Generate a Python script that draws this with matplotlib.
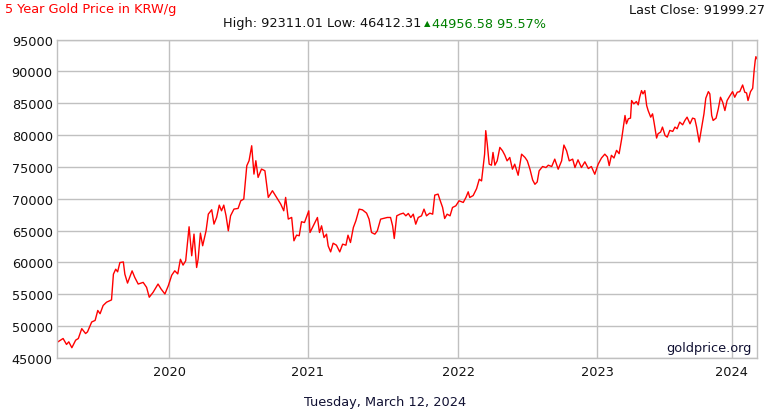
import numpy as np
import pandas as pd
import matplotlib
matplotlib.use("Agg")
import matplotlib.pyplot as plt
import matplotlib.dates as mdates

# Данные: цена золота в KRW за грамм
dates = [
    "2019-03-12", "2019-03-28", "2019-04-06", "2019-04-12", "2019-04-20", "2019-04-30",
    "2019-05-07", "2019-05-16", "2019-05-26", "2019-05-31", "2019-06-11", "2019-06-20",
    "2019-06-27", "2019-07-03", "2019-07-11", "2019-07-20", "2019-08-02", "2019-08-07",
    "2019-08-13", "2019-08-18", "2019-08-24", "2019-09-02", "2019-09-06", "2019-09-13",
    "2019-09-25", "2019-10-02", "2019-10-11", "2019-10-24", "2019-11-02", "2019-11-09",
    "2019-11-19", "2019-12-02", "2019-12-10", "2019-12-20", "2019-12-29",
    "2020-01-07", "2020-01-15", "2020-01-23", "2020-01-30", "2020-02-06", "2020-02-13",
    "2020-02-22", "2020-02-29", "2020-03-06", "2020-03-13", "2020-03-17", "2020-03-23",
    "2020-03-29", "2020-04-07", "2020-04-13", "2020-04-22", "2020-04-28", "2020-05-05",
    "2020-05-12", "2020-05-18", "2020-05-24", "2020-05-30", "2020-06-05", "2020-06-11",
    "2020-06-20", "2020-07-01", "2020-07-08", "2020-07-16", "2020-07-24", "2020-07-30",
    "2020-08-06", "2020-08-12", "2020-08-17", "2020-08-23", "2020-09-01", "2020-09-10",
    "2020-09-19", "2020-09-30", "2020-10-11", "2020-10-22", "2020-10-30", "2020-11-04",
    "2020-11-11", "2020-11-20", "2020-11-26", "2020-12-03", "2020-12-10", "2020-12-16",
    "2020-12-24",
    "2021-01-04", "2021-01-07", "2021-01-15", "2021-01-25", "2021-01-30", "2021-02-04",
    "2021-02-10", "2021-02-16", "2021-02-20", "2021-02-26", "2021-03-04", "2021-03-12",
    "2021-03-20", "2021-03-27", "2021-04-04", "2021-04-09", "2021-04-15", "2021-04-22",
    "2021-04-28", "2021-05-06", "2021-05-14", "2021-05-24", "2021-05-30", "2021-06-05",
    "2021-06-13", "2021-06-19", "2021-06-27", "2021-07-03", "2021-07-13", "2021-07-21",
    "2021-07-26", "2021-07-30", "2021-08-05", "2021-08-13", "2021-08-21", "2021-08-27",
    "2021-09-02", "2021-09-08", "2021-09-14", "2021-09-20", "2021-09-26", "2021-10-04",
    "2021-10-10", "2021-10-16", "2021-10-24", "2021-10-31", "2021-11-05", "2021-11-13",
    "2021-11-17", "2021-11-24", "2021-11-29", "2021-12-05", "2021-12-12", "2021-12-18",
    "2021-12-26",
    "2022-01-03", "2022-01-14", "2022-01-21", "2022-01-27", "2022-01-31", "2022-02-09",
    "2022-02-18", "2022-02-25", "2022-03-03", "2022-03-07", "2022-03-11", "2022-03-14",
    "2022-03-18", "2022-03-23", "2022-03-29", "2022-04-02", "2022-04-07", "2022-04-13",
    "2022-04-20", "2022-04-27", "2022-05-03", "2022-05-09", "2022-05-16", "2022-05-23",
    "2022-05-29", "2022-06-07", "2022-06-16", "2022-06-25", "2022-07-01", "2022-07-08",
    "2022-07-15", "2022-07-21", "2022-07-27", "2022-08-01", "2022-08-10", "2022-08-19",
    "2022-08-25", "2022-09-03", "2022-09-11", "2022-09-20", "2022-09-29", "2022-10-05",
    "2022-10-12", "2022-10-19", "2022-10-28", "2022-11-03", "2022-11-11", "2022-11-20",
    "2022-11-29", "2022-12-08", "2022-12-16", "2022-12-25",
    "2023-01-03", "2023-01-12", "2023-01-21", "2023-01-28", "2023-02-02", "2023-02-08",
    "2023-02-15", "2023-02-22", "2023-03-01", "2023-03-08", "2023-03-12", "2023-03-17",
    "2023-03-21", "2023-03-26", "2023-04-01", "2023-04-04", "2023-04-10", "2023-04-17",
    "2023-04-22", "2023-04-26", "2023-05-01", "2023-05-05", "2023-05-10", "2023-05-15",
    "2023-05-19", "2023-05-26", "2023-05-31", "2023-06-04", "2023-06-11", "2023-06-15",
    "2023-06-22", "2023-06-27", "2023-07-04", "2023-07-10", "2023-07-17", "2023-07-25",
    "2023-07-31", "2023-08-06", "2023-08-13", "2023-08-21", "2023-08-27", "2023-09-02",
    "2023-09-10", "2023-09-17", "2023-09-23", "2023-09-28", "2023-10-05", "2023-10-11",
    "2023-10-18", "2023-10-23", "2023-10-30", "2023-11-03", "2023-11-08", "2023-11-12",
    "2023-11-20", "2023-11-26", "2023-12-02", "2023-12-08", "2023-12-14", "2023-12-20",
    "2023-12-28",
    "2024-01-04", "2024-01-10", "2024-01-17", "2024-01-24", "2024-02-01", "2024-02-07",
    "2024-02-12", "2024-02-16", "2024-02-23", "2024-02-29", "2024-03-04", "2024-03-07",
    "2024-03-09", "2024-03-12",
]
prices = [
    47440, 48060, 47130, 47540, 46610, 47800,
    48060, 49610, 48840, 49100, 50650, 50900,
    52460, 51950, 53240, 53760, 54120, 58160,
    58940, 58530, 59980, 60080, 58160, 56760,
    58680, 57650, 56610, 56870, 56090, 54540,
    55310, 56610, 55830, 55050, 56350,
    58000, 58690, 58200, 60500, 59580, 60260,
    65600, 61050, 64450, 59210, 60520, 64610,
    62620, 64970, 67590, 68270, 66020, 67070,
    69000, 68110, 69000, 67330, 64970, 67330,
    68380, 68480, 69680, 69950, 75180, 75970,
    78320, 73870, 75970, 73350, 74660, 74400,
    70210, 71260, 70210, 69160, 68110, 70210,
    66810, 67070, 63400, 64290, 64190, 66390,
    66270,
    68100, 64700, 65750, 67060, 64700, 65750,
    63910, 64440, 62600, 61660, 63020, 62710,
    61660, 62870, 62710, 64280, 63130, 65490,
    66530, 68370, 68260, 67740, 66800, 64700,
    64440, 64960, 66800, 66900, 67060, 67060,
    65750, 63760, 67320, 67580, 67740, 67320,
    67690, 67060, 67580, 66010, 67060, 67320,
    68370, 67320, 67740, 67580, 70570, 70730,
    69940, 68630, 66900, 67580, 67320, 68630,
    68890,
    69680, 69420, 70200, 71090, 70200, 70500,
    71590, 73060, 72800, 74900, 77000, 80690,
    78580, 75430, 75270, 77270, 75270, 75950,
    78060, 77530, 76850, 75950, 76480, 74640,
    75430, 73690, 77000, 76480, 75950, 74640,
    72950, 72270, 72640, 74380, 75060, 74900,
    75270, 75060, 76220, 74640, 75950, 78430,
    77530, 75950, 76220, 74900, 76110, 74900,
    75800, 74740, 75060, 73850,
    75430, 76400, 77000, 76560, 75200, 76820,
    76400, 77600, 77080, 79420, 80990, 83070,
    81770, 82550, 82660, 85420, 84900, 85260,
    84740, 85940, 86980, 86460, 86980, 84630,
    83850, 82810, 83330, 82030, 79530, 80210,
    80470, 81250, 79940, 79680, 80730, 80570,
    81250, 80990, 82030, 81610, 82290, 82810,
    81770, 82660, 82550, 81250, 78900, 80990,
    83330, 85780, 86820, 86460, 83070, 82290,
    82660, 84110, 85940, 85160, 83850, 85420,
    86200,
    86820, 85940, 86720, 86820, 87860, 86720,
    86610, 85420, 86820, 87340, 90100, 91670,
    92311, 91999,
]
y_ticks = [45000, 50000, 55000, 60000, 65000, 70000, 75000, 80000, 85000, 90000, 95000]
year_ticks = ["2020-01-01", "2021-01-01", "2022-01-01", "2023-01-01", "2024-01-01"]

# Ось X у goldprice неравномерная по календарю: годы занимают разную ширину
axis_dates = ["2019-03-12", "2020-01-01", "2021-01-01", "2022-01-01",
              "2023-01-01", "2024-01-01", "2024-03-12"]
axis_frac = [0.0, 0.1607, 0.3579, 0.5733, 0.7721, 0.9636, 1.0]


def make_chart():
    x = pd.to_datetime(dates)
    anchor_nums = mdates.date2num(pd.to_datetime(axis_dates))

    def forward(v):
        return np.interp(v, anchor_nums, axis_frac)

    def inverse(v):
        return np.interp(v, axis_frac, anchor_nums)

    grid_color = '#c0c0c0'
    fig = plt.figure(figsize=(7.7, 4.1), dpi=100)
    ax = fig.add_axes([0.0740, 0.1244, 0.9091, 0.7768])

    ax.plot(x, prices, color='#ff0000', linewidth=1.0)

    ax.set_xscale('function', functions=(forward, inverse))
    ax.set_xlim(anchor_nums[0], anchor_nums[-1])
    ax.set_xticks(mdates.date2num(pd.to_datetime(year_ticks)))
    ax.xaxis.set_major_formatter(mdates.DateFormatter('%Y'))
    ax.xaxis.set_minor_locator(matplotlib.ticker.NullLocator())

    ax.set_ylim(45000, 95000)
    ax.set_yticks(y_ticks)

    ax.grid(True, color=grid_color, linewidth=1.0)
    ax.set_axisbelow(True)
    for s in ax.spines.values():
        s.set_color(grid_color)
        s.set_linewidth(1.0)
    ax.tick_params(length=0, labelsize=9.3, colors='#111111', pad=5)
    ax.tick_params(axis='y', pad=3)

    # Заголовки
    fs = 9.3
    fig.text(5 / 770, 1 - 10 / 410, '5 Year Gold Price in KRW/g', color='#ff0000',
             fontsize=fs, ha='left', va='center')
    fig.text(765 / 770, 1 - 10 / 410, 'Last Close: 91999.27', color='#111111',
             fontsize=fs, ha='right', va='center')
    fig.text(421 / 770, 1 - 24 / 410, 'High: 92311.01 Low: 46412.31', color='#111111',
             fontsize=fs, ha='right', va='center')
    fig.text(424 / 770, 1 - 23.5 / 410, '\u25b2', color='#008000',
             fontsize=6, ha='left', va='center')
    fig.text(432 / 770, 1 - 24 / 410, '44956.58 95.57%', color='#008000',
             fontsize=fs, ha='left', va='center')
    ax.text(0.993, 0.012, 'goldprice.org', transform=ax.transAxes, color='#111133',
            fontsize=fs, ha='right', va='bottom')
    fig.text(385 / 770, 1 - 403 / 410, 'Tuesday, March 12, 2024', color='#111133',
             fontsize=fs, ha='center', va='center')

    fig.savefig('out.png', dpi=100)
    plt.close(fig)


if __name__ == '__main__':
    make_chart()
